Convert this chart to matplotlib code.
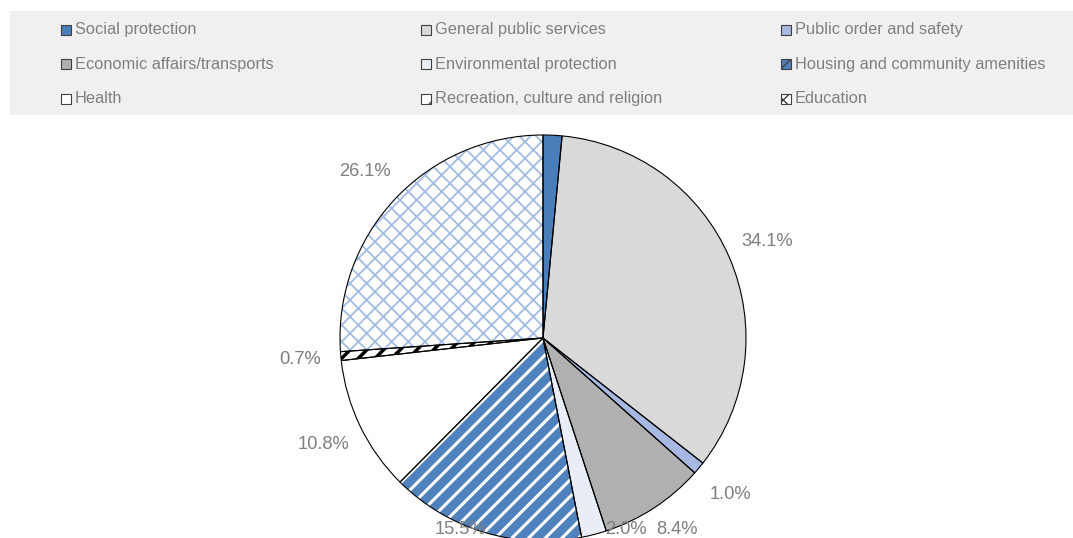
import numpy as np
import matplotlib.pyplot as plt
from matplotlib.patches import Rectangle

plt.rcParams['font.family'] = ['Liberation Sans', 'DejaVu Sans']

categories = ["Social protection", "General public services", "Public order and safety",
              "Economic affairs/transports", "Environmental protection",
              "Housing and community amenities", "Health",
              "Recreation, culture and religion", "Education"]
shares = [1.5, 34.1, 1.0, 8.4, 2.0, 15.5, 10.8, 0.7, 26.1]

fills = ['#4a7ebb', '#d9d9d9', '#a7b9e2', '#b0b0b0', '#e9edf5',
         '#4f81bd', '#ffffff', '#ffffff', '#ffffff']
hatches = [None, None, None, None, None, '//', None, '//', 'xx']
hatch_colors = ['none', 'none', 'none', 'none', 'none',
                '#ffffff', 'none', '#000000', '#a2bbe2']
hatch_widths = [1, 1, 1, 1, 1, 2.2, 1, 2.5, 1.3]

text_grey = '#7f7f7f'

fig = plt.figure(figsize=(10.73, 5.38), dpi=100)
ax = fig.add_axes([0, 0, 1, 1])

center = (543, 200)
radius = 203

# filled / hatched layer
wedges, _ = ax.pie(shares, colors=fills, startangle=90, counterclock=False,
                   center=center, radius=radius, frame=True,
                   wedgeprops=dict(linewidth=0))
for w, h, hc, hw in zip(wedges, hatches, hatch_colors, hatch_widths):
    if h:
        w.set_hatch(h)
        w.set_edgecolor(hc)
        if hasattr(w, 'set_hatch_linewidth'):
            w.set_hatch_linewidth(hw)

# outlines and value labels
labels = ['{:.1f}%'.format(v) for v in shares]
outl, texts = ax.pie(shares, labels=labels, startangle=90, counterclock=False,
                     center=center, radius=radius, frame=True, labeldistance=1.2,
                     wedgeprops=dict(facecolor='none', edgecolor='black', linewidth=0.8),
                     textprops=dict(color=text_grey, fontsize=13.2))

# keep labels inside the canvas, sliding them sideways off the rim when squeezed
y_min, y_max = 8, 430
for t in texts:
    t.set_ha('center')
    t.set_va('center')
    t.set_zorder(4)
    x, y = t.get_position()
    dx, dy = x - center[0], y - center[1]
    if y < y_min or y > y_max:
        dy = np.clip(y, y_min, y_max) - center[1]
        reach = 1.03 * radius
        if dx ** 2 + dy ** 2 < reach ** 2 and abs(dy) < reach:
            dx = np.sign(dx) * np.sqrt(reach ** 2 - dy ** 2)
        t.set_position((center[0] + dx, center[1] + dy))

ax.set_xlim(0, 1073)
ax.set_ylim(0, 538)
ax.set_aspect('equal')
ax.axis('off')

# legend panel
ax.add_patch(Rectangle((10, 538 - 115), 1063, 104, facecolor='#f0f0f0',
                       edgecolor='none', zorder=5, clip_on=False))
for i, name in enumerate(categories):
    col, row = i % 3, i // 3
    x0 = 61 + col * 360
    yc = 538 - (29.5 + row * 34.5)
    box = Rectangle((x0, yc - 5), 10, 10, facecolor=fills[i], edgecolor='#404040',
                    linewidth=0.8, zorder=6, clip_on=False)
    if hatches[i]:
        box.set_hatch(hatches[i])
    ax.add_patch(box)
    ax.text(x0 + 14, yc, name, color=text_grey, fontsize=11.8, va='center',
            ha='left', zorder=6)

fig.savefig('out.png', dpi=100)
